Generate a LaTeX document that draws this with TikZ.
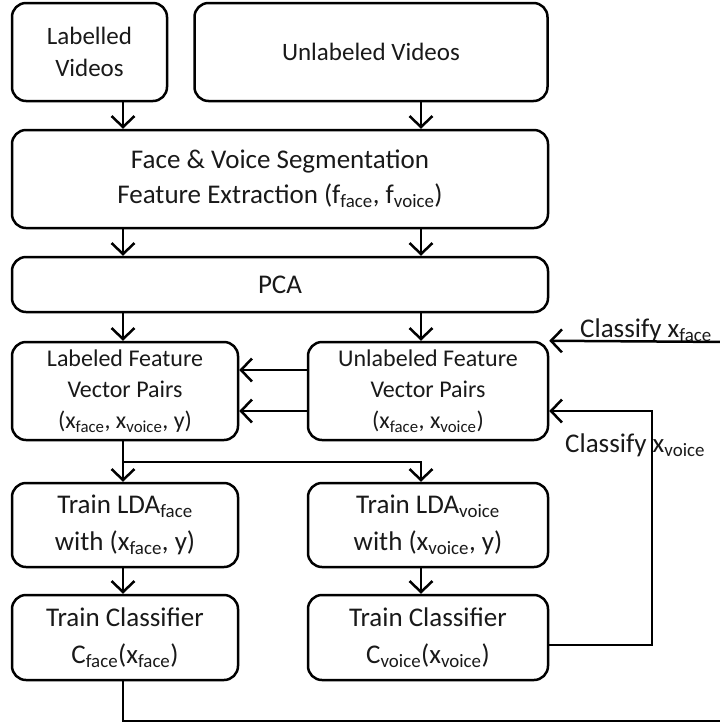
\documentclass[tikz,border=0pt]{standalone}
\usepackage{fontspec}
\setmainfont{Carlito}
\usetikzlibrary{arrows.meta}
\begin{document}
\begin{tikzpicture}[x=1pt,y=-1pt,
  box/.style={draw=black, line width=2.5pt, rounded corners=14pt, inner sep=0pt, align=center, text=black!90},
  arr/.style={line width=2.5pt, -{Straight Barb[length=11pt,width=23pt,line width=2.5pt]}},
  ln/.style={line width=2.5pt},
  fa/.style={font=\fontsize{25}{32}\selectfont},
  fb/.style={font=\fontsize{27}{35}\selectfont},
  fc/.style={font=\fontsize{24}{31}\selectfont},
  fd/.style={font=\fontsize{27}{37}\selectfont},
  lab/.style={anchor=base west, inner sep=0pt, text=black!90, font=\fontsize{27}{30}\selectfont}
]
\useasboundingbox (0,0) rectangle (720,724);
\coordinate (cl) at (123,0);
\coordinate (cr) at (421,0);

\node[box, fa, minimum width=155pt, minimum height=98pt] (LV) at (89.5,52) {Labelled\\Videos};
\node[box, fa, minimum width=353pt, minimum height=98pt] (UV) at (371,52) {Unlabeled Videos};
\node[box, fb, minimum width=536pt, minimum height=98pt] (FV) at (280,179) {Face \& Voice Segmentation\\Feature Extraction (f\textsubscript{face}, f\textsubscript{voice})};
\node[box, fb, minimum width=536pt, minimum height=55pt] (PCA) at (280,284.5) {PCA};
\node[box, fc, minimum width=226pt, minimum height=98pt] (LF) at (125,391) {Labeled Feature\\Vector Pairs\\(x\textsubscript{face}, x\textsubscript{voice}, y)};
\node[box, fc, minimum width=240pt, minimum height=98pt] (UF) at (428,391) {Unlabeled Feature\\Vector Pairs\\(x\textsubscript{face}, x\textsubscript{voice})};
\node[box, fd, minimum width=226pt, minimum height=84pt] (LDAf) at (125,525) {Train LDA\textsubscript{face}\\with (x\textsubscript{face}, y)};
\node[box, fd, minimum width=240pt, minimum height=84pt] (LDAv) at (428,525) {Train LDA\textsubscript{voice}\\with (x\textsubscript{voice}, y)};
\node[box, fd, minimum width=226pt, minimum height=85pt] (TCf) at (125,637.5) {Train Classifier\\C\textsubscript{face}(x\textsubscript{face})};
\node[box, fd, minimum width=240pt, minimum height=85pt] (TCv) at (428,637.5) {Train Classifier\\C\textsubscript{voice}(x\textsubscript{voice})};

\node[lab] (cf) at (580,337) {Classify x\textsubscript{face}};
\node[lab] (cv) at (565,452) {Classify x\textsubscript{voice}};

% vertical arrows
\draw[arr] (cl |- LV.south) -- (cl |- FV.north);
\draw[arr] (cr |- UV.south) -- (cr |- FV.north);
\draw[arr] (cl |- FV.south) -- (cl |- PCA.north);
\draw[arr] (cr |- FV.south) -- (cr |- PCA.north);
\draw[arr] (cl |- PCA.south) -- (cl |- LF.north);
\draw[arr] (cr |- PCA.south) -- (cr |- UF.north);
\draw[arr] (cl |- LF.south) -- (cl |- LDAf.north);
\coordinate (br) at (123,462);
\draw[arr] (br) -| (cr |- LDAv.north);
\draw[arr] (cl |- LDAf.south) -- (cl |- TCf.north);
\draw[arr] (cr |- LDAv.south) -- (cr |- TCv.north);

% between feature boxes
\coordinate (h1) at (0,370);
\coordinate (h2) at (0,411);
\draw[arr] (UF.west |- h1) -- (LF.east |- h1);
\draw[arr] (UF.west |- h2) -- (LF.east |- h2);

% feedback loops
\coordinate (vr) at (652,645);
\draw[arr] (TCv.east |- vr) -- (vr) |- (UF.east |- h2);
\coordinate (far) at (730,342);
\coordinate (bot) at (123,721);
\draw[ln] (TCf.south -| cl) -- (bot) -- (bot -| far);
\draw[arr] (far) -- (UF.north east);
\end{tikzpicture}
\end{document}
